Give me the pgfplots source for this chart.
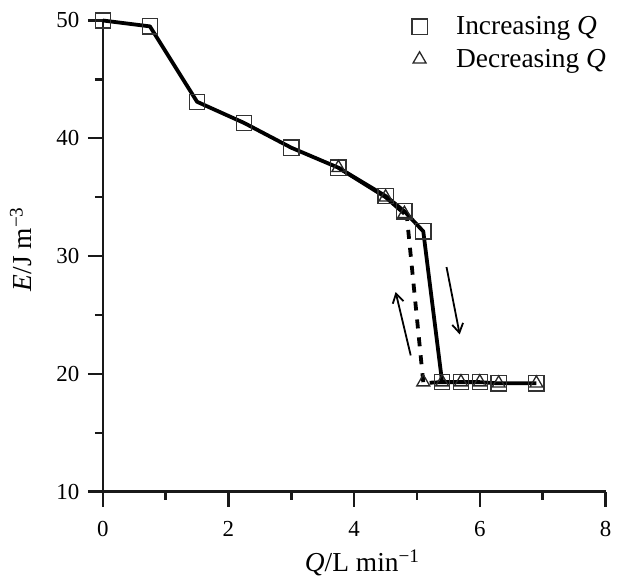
\documentclass[border=0pt]{standalone}
\usepackage{fontspec}
\setmainfont{Liberation Serif}
\usepackage{pgfplots}
\pgfplotsset{compat=1.18}
\usetikzlibrary{arrows.meta}
\begin{document}
\begin{tikzpicture}
\begin{axis}[
 name=ax, at={(0,0)}, anchor=south west,
 scale only axis, width=502.7bp, height=471.2bp,
 xmin=0, xmax=8, ymin=10, ymax=50,
 axis x line=bottom, axis y line=left,
 axis line style={-, line width=2.6bp, black!90},
 xtick={0,2,4,6,8}, ytick={10,20,30,40,50},
 minor x tick num=1, minor y tick num=1,
 tick align=outside,
 major tick length=15bp, minor tick length=8bp,
 tick style={black!90, line width=2.4bp},
 major tick style={black!90, line width=2.4bp},
 minor tick style={black!90, line width=2.4bp},
 tick label style={font=\fontsize{23}{27}\selectfont},
 xticklabel style={yshift=-11bp},
 yticklabel style={xshift=-5bp},
 /pgf/number format/assume math mode=true,
 clip=false,
 xlabel={\textit{Q}/L min\textsuperscript{−1}},
 ylabel={\textit{E}/J m\textsuperscript{−3}},
 label style={font=\fontsize{27.5}{32}\selectfont},
 xlabel style={at={(axis description cs:0.516,-0.151)}, anchor=center},
 ylabel style={at={(axis description cs:-0.163,0.515)}, anchor=center},
 legend style={at={(axis description cs:0.615,1.012)}, anchor=north west,
   draw=none, fill=none, inner sep=0pt, outer sep=0pt,
   font=\fontsize{27.5}{33}\selectfont, row sep=9bp, column sep=27bp},
 legend cell align=left,
 legend image code/.code={\draw[#1] plot coordinates {(0bp,0bp)};},
]
% solid line, increasing Q
\addplot[forget plot, black, line width=3.8bp, line join=round] coordinates {
 (0,50) (0.75,49.5) (1.5,43.1) (2.25,41.3) (3.0,39.2) (3.75,37.5) (4.5,35.1)
 (4.8,33.8) (5.1,32.1) (5.4,19.3) (5.7,19.3) (6.0,19.3) (6.3,19.2) (6.9,19.2)};
% decreasing Q: solid upper part, dashed jump
\addplot[forget plot, black, line width=3.8bp, line join=round] coordinates {
 (3.75,37.5) (4.5,35.0) (4.8,33.6)};
\addplot[forget plot, black, line width=3.8bp, dash pattern=on 9bp off 9bp] coordinates {
 (5.1,19.3) (4.84,33.3)};
\addplot[forget plot, black, line width=3.8bp] coordinates {
 (5.2,19.25) (5.4,19.3)};
% arrows
\addplot[forget plot, black, line width=1.8bp, -{Straight Barb[length=9bp,width=11bp]}] coordinates {
 (5.47,29.07) (5.68,23.35)};
\addplot[forget plot, black, line width=1.8bp, -{Straight Barb[length=9bp,width=11bp]}] coordinates {
 (4.90,21.57) (4.66,26.95)};
% markers
\addplot[only marks, mark=square, mark size=7.6bp, mark options={line width=1.3bp, draw=black!80, fill=none}] coordinates {
 (0,50) (0.75,49.5) (1.5,43.1) (2.25,41.3) (3.0,39.2) (3.75,37.5) (4.5,35.1)
 (4.8,33.8) (5.1,32.1) (5.4,19.3) (5.7,19.3) (6.0,19.3) (6.3,19.2) (6.9,19.2)};
\addlegendentry{Increasing \textit{Q}}
\addplot[only marks, mark=triangle, mark size=7.5bp, mark options={line width=1.3bp, draw=black!85, fill=none}] coordinates {
 (6.9,19.2) (6.3,19.2) (6.0,19.3) (5.7,19.3) (5.4,19.3) (5.1,19.3) (4.8,33.6) (4.5,35.0) (3.75,37.5)};
\addlegendentry{Decreasing \textit{Q}}
\end{axis}
\pgfresetboundingbox
\path[use as bounding box] ([xshift=-102.8bp,yshift=-85.3bp]ax.south west) rectangle ([xshift=15.5bp,yshift=20.5bp]ax.north east);
\end{tikzpicture}
\end{document}
